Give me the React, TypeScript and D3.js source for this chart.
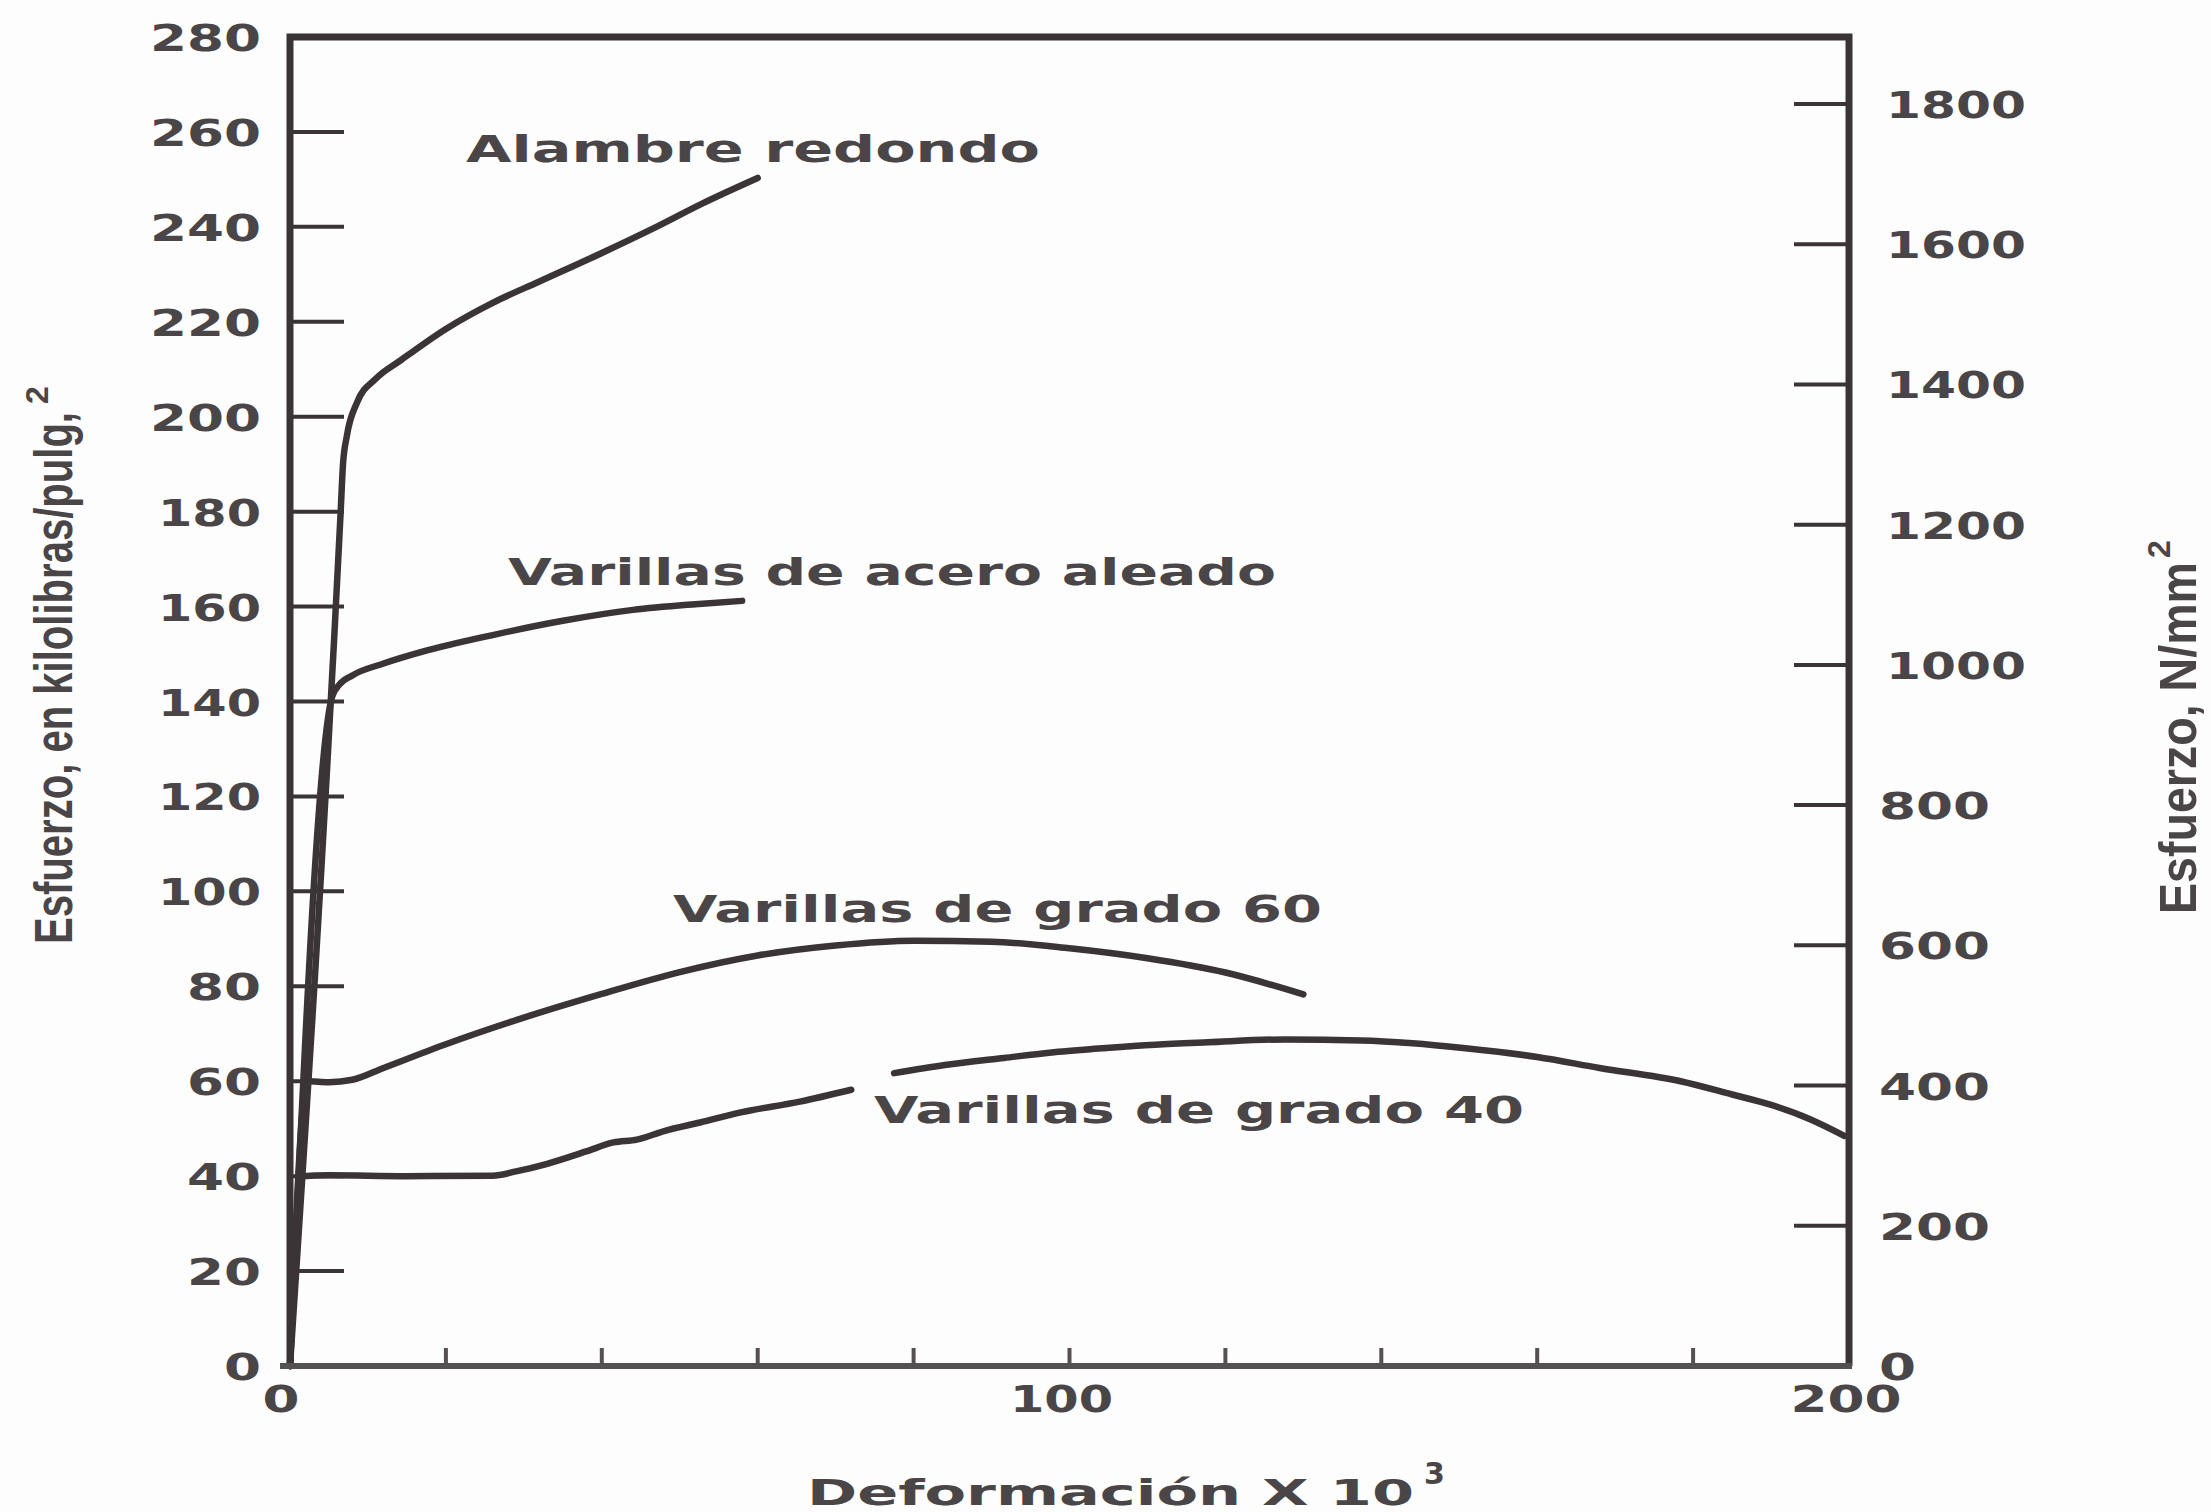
import React from "react";
import * as d3 from "d3";

// Stress–strain curves of reinforcing steels (stress in ksi, strain × 10³).
type Pt = [number, number] | null;

const alambreRedondo: Pt[] = [
  [0, 0], [6.5, 180], [6.8, 190], [7.3, 196], [8.6, 203], [11, 208], [14.3, 212],
  [20, 218.5], [26, 224], [32, 228.5], [40, 234.5], [47, 240], [53, 245], [60, 250.3],
];

const aceroAleado: Pt[] = [
  [0, 0], [5.4, 141], [6.3, 143.5], [8, 145.5], [12, 148], [17, 150.5], [26, 154],
  [35, 157], [44, 159.3], [52, 160.5], [58, 161.2],
];

const grado60: Pt[] = [
  [0, 0], [2.2, 60], [5, 59.8], [8, 60.3], [12, 62.8], [20, 67.8], [30, 73.4], [40, 78.4],
  [50, 83], [60, 86.5], [70, 88.6], [80, 89.6], [90, 89.4], [100, 88], [110, 85.9],
  [120, 82.9], [130, 78.3],
];

// null marks the break in the printed curve
const grado40: Pt[] = [
  [0, 0], [1.5, 40], [5, 40.2], [15, 40], [26, 40.1], [29, 41], [33, 42.6], [38, 45.2],
  [41.5, 47.1], [44.5, 47.7], [48, 49.5], [52.6, 51.3], [58, 53.5], [65.4, 55.7], [72, 58.2],
  null,
  [77.5, 61.7], [84, 63.4], [91.6, 64.9], [98, 66.1], [104.7, 67], [111, 67.7], [117.8, 68.2],
  [127.6, 68.8], [137.4, 68.6], [144, 68], [150.5, 67], [160, 65.1], [168, 62.8],
  [178.4, 60], [185, 57.2], [190, 55], [195, 52], [199.4, 48.5],
];

const curveNames = [
  "Alambre redondo",
  "Varillas de acero aleado",
  "Varillas de grado 60",
  "Varillas de grado 40",
];

const strainTicks = [0, 20, 40, 60, 80, 100, 120, 140, 160, 180, 200];
const strainLabels = [0, 100, 200];
const ksiTicks = [0, 20, 40, 60, 80, 100, 120, 140, 160, 180, 200, 220, 240, 260, 280];
const mpaTicks = [0, 200, 400, 600, 800, 1000, 1200, 1400, 1600, 1800];

const xTitle = "Deformación X 10";
const xTitleSup = "3";
const yLeftTitle = "Esfuerzo, en kilolibras/pulg,";
const yRightTitle = "Esfuerzo, N/mm";
const sup2 = "2";

const INK = "#3a3436";
const TEXT = "#4a4648";
const WIDE = "'DejaVu Sans', Verdana, sans-serif";
const NARROW = "'Liberation Sans', Arial, sans-serif";

// width of a tick label in the extended face
const labelWidth = (s: string) =>
  s.split("").reduce((w, c) => w + (c === "1" ? 29 : 37), 0);

export default function App() {
  const x = d3.scaleLinear().domain([0, 200]).range([290, 1849]);
  const yL = d3.scaleLinear().domain([0, 280]).range([1366, 37]);
  const yR = d3.scaleLinear().domain([0, 1800]).range([1366, 104]);

  const line = d3
    .line<Pt>()
    .defined((d) => d !== null)
    .x((d) => x((d as [number, number])[0]))
    .y((d) => yL((d as [number, number])[1]))
    .curve(d3.curveMonotoneX);

  const curves = [alambreRedondo, aceroAleado, grado60, grado40];

  // label placement: [left x, baseline y, width]
  const labelBoxes: [number, number, number][] = [
    [466, 162, 574],
    [508, 585, 768],
    [673, 922, 649],
    [874, 1123, 650],
  ];

  const [x0, x1] = x.range();
  const yTop = yL(280);
  const yBot = yL(0);

  return (
    <div style={{ position: "absolute", left: 0, top: 0 }}>
      <svg width={2211} height={1512} viewBox="0 0 2211 1512">
        <rect x={0} y={0} width={2211} height={1512} fill="#fdfdfd" />

        {/* curves */}
        {curves.map((c, i) => (
          <path
            key={i}
            d={line(c) || ""}
            fill="none"
            stroke={INK}
            strokeWidth={6.5}
            strokeLinecap="round"
            strokeLinejoin="round"
          />
        ))}

        {/* frame */}
        <path
          d={`M${x0},${yBot} L${x0},${yTop} L${x1},${yTop} L${x1},${yBot}`}
          fill="none"
          stroke={INK}
          strokeWidth={7}
          strokeLinejoin="miter"
        />
        <line x1={x0 - 10} x2={x1 + 3} y1={yBot} y2={yBot} stroke="#555052" strokeWidth={6} />

        {/* left ticks (ksi) */}
        {ksiTicks
          .filter((t) => t > 0 && t < 280)
          .map((t) => (
            <line key={`lt${t}`} x1={x0} x2={x0 + 54} y1={yL(t)} y2={yL(t)} stroke={INK} strokeWidth={4} />
          ))}
        {ksiTicks.map((t) => {
          const s = String(t);
          return (
            <text
              key={`ll${t}`}
              x={261}
              y={yL(t) + 14}
              textAnchor="end"
              fontFamily={WIDE}
              fontWeight="bold"
              fontSize={38}
              fill={TEXT}
              textLength={labelWidth(s)}
              lengthAdjust="spacingAndGlyphs"
            >
              {s}
            </text>
          );
        })}

        {/* right ticks (N/mm²) */}
        {mpaTicks
          .filter((t) => t > 0)
          .map((t) => (
            <line key={`rt${t}`} x1={x1} x2={x1 - 55} y1={yR(t)} y2={yR(t)} stroke={INK} strokeWidth={4} />
          ))}
        {mpaTicks.map((t) => {
          const s = String(t);
          return (
            <text
              key={`rl${t}`}
              x={s.length === 4 ? 1886 : 1879}
              y={yR(t) + 14}
              textAnchor="start"
              fontFamily={WIDE}
              fontWeight="bold"
              fontSize={38}
              fill={TEXT}
              textLength={labelWidth(s)}
              lengthAdjust="spacingAndGlyphs"
            >
              {s}
            </text>
          );
        })}

        {/* bottom ticks (strain) */}
        {strainTicks
          .filter((t) => t > 0 && t < 200)
          .map((t) => (
            <line key={`bt${t}`} x1={x(t)} x2={x(t)} y1={yBot} y2={yBot - 18} stroke="#555052" strokeWidth={4} />
          ))}
        {strainLabels.map((t) => {
          const s = String(t);
          return (
            <text
              key={`bl${t}`}
              x={x(t) - (t === 0 ? 9 : t === 100 ? 8 : 3)}
              y={yBot + 46}
              textAnchor="middle"
              fontFamily={WIDE}
              fontWeight="bold"
              fontSize={38}
              fill={TEXT}
              textLength={labelWidth(s)}
              lengthAdjust="spacingAndGlyphs"
            >
              {s}
            </text>
          );
        })}

        {/* curve labels */}
        {curveNames.map((n, i) => {
          const [lx, ly, lw] = labelBoxes[i];
          return (
            <text
              key={n}
              x={lx}
              y={ly}
              fontFamily={WIDE}
              fontWeight="bold"
              fontSize={38}
              fill={TEXT}
              textLength={lw}
              lengthAdjust="spacingAndGlyphs"
            >
              {n}
            </text>
          );
        })}

        {/* axis titles */}
        <text
          x={807}
          y={1505}
          fontFamily={WIDE}
          fontWeight="bold"
          fontSize={36}
          fill={TEXT}
          textLength={607}
          lengthAdjust="spacingAndGlyphs"
        >
          {xTitle}
        </text>
        <text x={1424} y={1484} fontFamily={WIDE} fontWeight="bold" fontSize={30} fill={TEXT}>
          {xTitleSup}
        </text>

        <g transform="translate(72,944) rotate(-90)">
          <text
            x={0}
            y={0}
            fontFamily={NARROW}
            fontWeight="bold"
            fontSize={54}
            fill={TEXT}
            textLength={532}
            lengthAdjust="spacingAndGlyphs"
          >
            {yLeftTitle}
          </text>
          <text x={540} y={-24} fontFamily={NARROW} fontWeight="bold" fontSize={32} fill={TEXT}>
            {sup2}
          </text>
        </g>

        <g transform="translate(2196,914) rotate(-90)">
          <text
            x={0}
            y={0}
            fontFamily={NARROW}
            fontWeight="bold"
            fontSize={52}
            fill={TEXT}
            textLength={352}
            lengthAdjust="spacingAndGlyphs"
          >
            {yRightTitle}
          </text>
          <text x={356} y={-26} fontFamily={NARROW} fontWeight="bold" fontSize={32} fill={TEXT}>
            {sup2}
          </text>
        </g>
      </svg>
    </div>
  );
}
